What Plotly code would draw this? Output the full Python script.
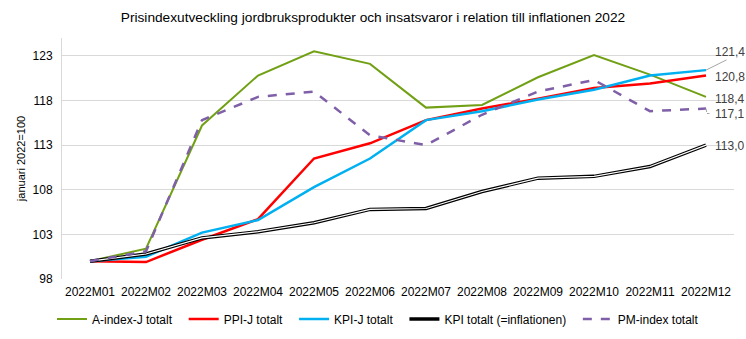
import plotly.graph_objects as go

months = ["2022M01", "2022M02", "2022M03", "2022M04", "2022M05", "2022M06",
          "2022M07", "2022M08", "2022M09", "2022M10", "2022M11", "2022M12"]

a_index = [100.0, 101.4, 115.2, 120.8, 123.5, 122.1, 117.2, 117.5, 120.6, 123.1, 120.9, 118.4]
ppi_j = [100.0, 99.9, 102.4, 104.7, 111.5, 113.2, 115.8, 117.1, 118.2, 119.4, 119.9, 120.8]
kpi_j = [100.0, 100.5, 103.2, 104.6, 108.3, 111.5, 115.8, 116.8, 118.1, 119.2, 120.8, 121.4]
kpi = [100.0, 100.8, 102.6, 103.3, 104.3, 105.8, 105.9, 107.8, 109.3, 109.5, 110.6, 113.0]
pm_index = [100.0, 101.1, 115.8, 118.4, 119.0, 114.1, 113.0, 116.4, 119.0, 120.3, 116.8, 117.1]

end_labels = ["121,4", "120,8", "118,4", "117,1", "113,0"]
y_ticks = [98, 103, 108, 113, 118, 123]

font = "Liberation Sans, Arial, sans-serif"
pad = "\u00a0" * 2

fig = go.Figure()
fig.add_trace(go.Scatter(x=months, y=a_index, mode="lines", name="A-index-J totalt" + pad,
                         line=dict(color="#71a014", width=2)))
fig.add_trace(go.Scatter(x=months, y=ppi_j, mode="lines", name="PPI-J totalt" + pad,
                         line=dict(color="#ff0000", width=2.5)))
fig.add_trace(go.Scatter(x=months, y=kpi_j, mode="lines", name="KPI-J totalt" + pad,
                         line=dict(color="#00b0f0", width=2.5)))
fig.add_trace(go.Scatter(x=months, y=kpi, mode="lines", name="KPI totalt (=inflationen)" + pad,
                         line=dict(color="#000000", width=3.5)))
fig.add_trace(go.Scatter(x=months, y=kpi, mode="lines", showlegend=False, hoverinfo="skip",
                         line=dict(color="#ffffff", width=1.2)))
fig.add_trace(go.Scatter(x=months, y=pm_index, mode="lines", name="PM-index totalt",
                         line=dict(color="#7f5fa8", width=2.5, dash="dash")))

last = months[-1]
# end labels: (value, label, yshift)
label_specs = [
    (kpi_j[-1], end_labels[0], 18),
    (ppi_j[-1], end_labels[1], -2),
    (a_index[-1], end_labels[2], -2),
    (pm_index[-1], end_labels[3], -5),
    (kpi[-1], end_labels[4], -1),
]
for val, txt, ys in label_specs:
    fig.add_annotation(x=last, y=val, text=txt, showarrow=False, xanchor="left",
                       xshift=7, yshift=ys, font=dict(family=font, size=12, color="#404040"))

# leader lines (gray)
fig.add_annotation(x=last, y=kpi_j[-1], text="", showarrow=True, arrowhead=0, arrowwidth=1,
                   arrowcolor="#a6a6a6", ax=22, ay=-11, standoff=0, startstandoff=0)
fig.add_annotation(x=last, y=pm_index[-1], text="", showarrow=True, arrowhead=0, arrowwidth=1,
                   arrowcolor="#a6a6a6", ax=1, ay=5, standoff=0, startstandoff=0)
fig.add_annotation(x=last, y=pm_index[-1], text="", showarrow=True, arrowhead=0, arrowwidth=1,
                   arrowcolor="#a6a6a6", ax=4, ay=0, yshift=-5, xshift=1, standoff=0,
                   startstandoff=0)

fig.update_layout(
    width=746, height=339,
    margin=dict(l=62, r=12, t=38, b=60, autoexpand=False),
    paper_bgcolor="white", plot_bgcolor="white",
    font=dict(family=font, size=12, color="#404040"),
    title=dict(text="Prisindexutveckling jordbruksprodukter och insatsvaror i relation till inflationen 2022",
               x=0.5, xanchor="center", y=0.948, yanchor="middle",
               font=dict(family=font, size=13.7, color="#000000")),
    showlegend=True,
    legend=dict(orientation="h", x=0.0697, xanchor="left", xref="container",
                y=0.059, yanchor="middle", yref="container",
                font=dict(family=font, size=12, color="#000000"), itemwidth=30,
                tracegroupgap=0),
    hovermode=False,
)
fig.update_xaxes(type="category", range=[-0.5, 11.5], showgrid=False, showline=False,
                 ticks="", ticklabelstandoff=4,
                 tickfont=dict(family=font, size=12, color="#000000"))
fig.update_yaxes(range=[98, 125], tickvals=y_ticks, showgrid=True, gridcolor="#d9d9d9",
                 gridwidth=1, zeroline=False, showline=True, linecolor="#d9d9d9",
                 ticks="", ticklabelstandoff=6, tickfont=dict(family=font, size=12, color="#000000"),
                 title=dict(text="januari 2022=100", font=dict(family=font, size=11, color="#000000"),
                            standoff=4))

fig.write_html("out.html")
